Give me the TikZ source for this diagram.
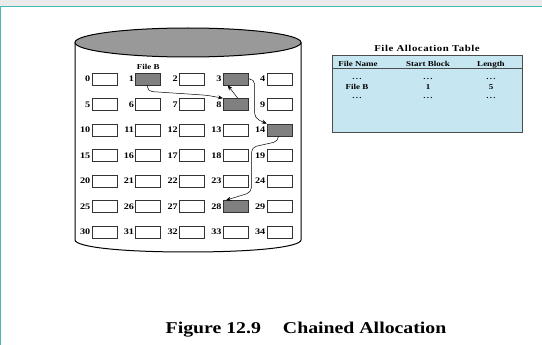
\documentclass[tikz,border=0pt]{standalone}
\usepackage{fontspec}
\setmainfont{Liberation Serif}[FakeStretch=1.2]
\usetikzlibrary{positioning, arrows.meta}
\definecolor{fatblue}{RGB}{198,230,241}
\definecolor{frameteal}{RGB}{70,185,185}

\begin{document}
\begin{tikzpicture}[
    x=1pt, y=-1pt,
    block/.style={draw=black!80, line width=0.6pt, rectangle, minimum width=25pt, minimum height=12pt, inner sep=0pt, fill=white},
    used/.style={block, fill=black!50},
    num/.style={font=\bfseries\fontsize{8.5}{9}\selectfont, inner sep=1.2pt},
    txt/.style={font=\bfseries\fontsize{7.5}{8}\selectfont, inner sep=0pt, anchor=base},
    chain/.style={draw, line width=0.5pt, rounded corners=5pt, -{Stealth[length=5pt, width=4pt]}}
]
\useasboundingbox (0,0) rectangle (542,345);
\fill[black!8] (0,0) rectangle (542,7);
\draw[frameteal, line width=1pt] (0,7) -- (542,7) (0.5,7) -- (0.5,345);

\draw[line width=1pt] (75,42.5) -- (75,240) .. controls (76,247) and (120,252) .. (188,252)
    .. controls (256,252) and (300,247) .. (301,240) -- (301,42.5);
\draw[line width=1pt, fill=black!40] (188,42.5) ellipse [x radius=113, y radius=14.5];

\foreach \r in {0,...,6}
  \foreach \c in {0,...,4} {
    \pgfmathtruncatemacro\i{5*\r+\c}
    \node[block] (b\i) at ({104.5+43.75*\c},{79+25.5*\r}) {};
    \node[num, left=0pt of b\i] (n\i) {\i};
  }
\foreach \i in {1,3,8,14,28}
  \node[used] (u\i) at (b\i) {};

\node[txt, anchor=south] (fileb) at ([yshift=3pt]u1.north) {File B};

\draw[chain] ([xshift=-1pt]u1.south) -- ++(0,6) -- ++(60,4) -- (u8.north west);
\draw[chain] ([xshift=2pt]u8.north) -- ([xshift=-8pt]u3.south);
\draw[chain] (u3.east) -- ++(6,0) -- ++(0,39) -- (u14.north west);
\draw[chain] ([xshift=-1pt]u14.south) -- ++(0,5) -- ++(-27,6) -- ++(0,45) -- ([xshift=3pt]u28.north west);

\node[txt, font=\bfseries\fontsize{9}{10}\selectfont\addfontfeatures{LetterSpace=6}] (fattitle) at (427,52) {File Allocation Table};
\node[draw=black!70, line width=0.8pt, fill=fatblue, minimum width=190pt, minimum height=77pt, inner sep=0pt] (fat) at (427,93.5) {};
\draw[black!70, line width=0.8pt] ([yshift=-14pt]fat.north west) -- ([yshift=-14pt]fat.north east);
\node[txt] (hname) at (358,67) {File Name};
\node[txt] (hstart) at (428,67) {Start Block};
\node[txt] (hlen) at (491,67) {Length};
\foreach \y in {79.5,99} {
  \node[txt] at (357,\y) {.\,.\,.};
  \node[txt] at (428,\y) {.\,.\,.};
  \node[txt] at (491,\y) {.\,.\,.};
}
\node[txt] (rname) at (357,90) {File B};
\node[txt] (rstart) at (428,90) {1};
\node[txt] (rlen) at (491,90) {5};

\node[font=\bfseries\fontsize{16.5}{17}\selectfont, inner sep=0pt, anchor=base] (caption) at (306,333) {Figure 12.9\hspace{22pt}Chained Allocation};
\end{tikzpicture}
\end{document}
